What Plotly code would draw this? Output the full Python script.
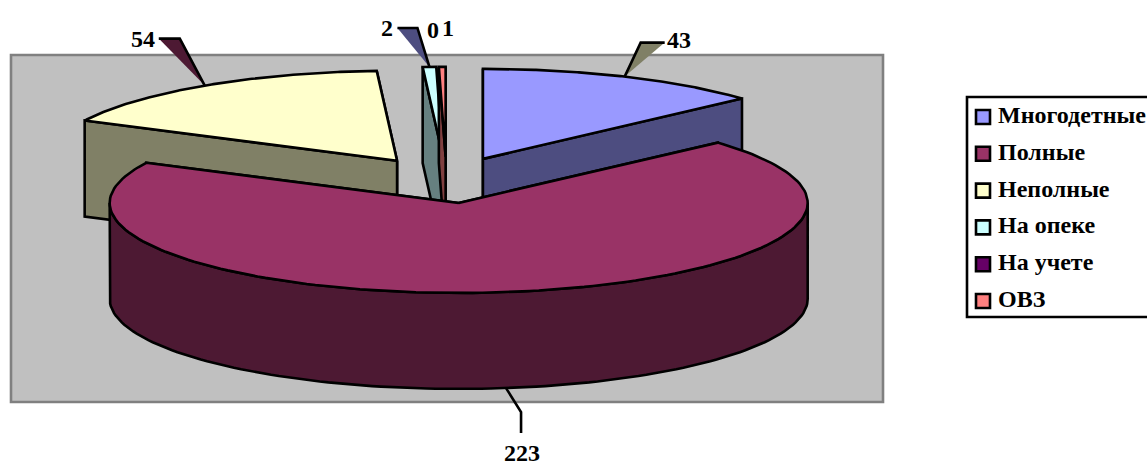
"""3D-look exploded pie drawn with filled scatter polygons on a pixel-sized axis."""
import numpy as np
import plotly.graph_objects as go

# ── Data ──────────────────────────────────────────────────────────────────────
categories = ["Многодетные", "Полные", "Неполные", "На опеке", "На учете", "ОВЗ"]
values = [43, 223, 54, 2, 0, 1]

# ── Colours ───────────────────────────────────────────────────────────────────
top_colors = ["#9999FF", "#993366", "#FFFFCC", "#CCFFFF", "#660066", "#FF8080"]
side_colors = ["#4D4D80", "#4D1933", "#808066", "#668080", "#330033", "#804040"]
# wedge under the leader lines, index = slice
leader_fill = {0: "#808066", 1: None, 2: "#4D1933", 3: "#4D4D80"}

_FONT = dict(family="Liberation Serif", color="black", size=24, weight=700)
_LEGEND_FONT = dict(family="Liberation Serif", color="black", size=24, weight=700)
_LW = 2.6

# ── Pie geometry (pixels) ─────────────────────────────────────────────────────
CX, CY = 446.5, 180
A, B = 349, 90
DEPTH = 96
EXPLODE = 0.257

# leader elbows relative to the rim midpoint
leader_offsets = {
    0: [(16, -34), (40, -34)],
    1: [(15, 24), (15, 45)],
    2: [(-25, -47), (-46, -47)],
    3: [(-12, -39), (-32, -39)],
}
label_pos = {0: (679, 40), 1: (522, 453), 2: (143, 39), 3: (387, 28), 4: (433, 30), 5: (448, 28)}

fig = go.Figure()


def poly(xs, ys, fill, line=True, name=None):
    fig.add_trace(go.Scatter(
        x=list(xs), y=list(ys),
        mode="lines",
        fill="toself",
        fillcolor=fill,
        line=dict(color="black", width=_LW if line else 0, shape="linear"),
        name=name or "",
        hoverinfo="name" if name else "skip",
        showlegend=False,
    ))


def rim(apex, deg):
    t = np.radians(deg)
    return apex[0] + A * np.sin(t), apex[1] - B * np.cos(t)


# slice start / end angles, clockwise from 12 o'clock
total = sum(values)
ends = np.cumsum(values) / total * 360
starts = np.concatenate([[0], ends[:-1]])
mids = (starts + ends) / 2
apexes = [
    (CX + EXPLODE * A * np.sin(np.radians(m)), CY - EXPLODE * B * np.cos(np.radians(m)))
    for m in mids
]


def draw_slice(i):
    if values[i] == 0:
        return
    apex, s, e = apexes[i], starts[i], ends[i]
    side = side_colors[i]

    # cut faces, the one further back first
    faces = sorted([s, e], key=lambda d: rim(apex, d)[1])
    for d in faces:
        rx, ry = rim(apex, d)
        poly([apex[0], rx, rx, apex[0], apex[0]],
             [apex[1], ry, ry + DEPTH, apex[1] + DEPTH, apex[1]], side)

    # outer wall, front half only
    lo, hi = max(s, 90), min(e, 270)
    if lo < hi:
        th = np.linspace(lo, hi, 120)
        wx, wy = rim(apex, th)
        poly(np.concatenate([wx, wx[::-1], wx[:1]]),
             np.concatenate([wy, wy[::-1] + DEPTH, wy[:1]]), side)

    # top
    th = np.linspace(s, e, 160)
    tx, ty = rim(apex, th)
    poly(np.concatenate([[apex[0]], tx, [apex[0]]]),
         np.concatenate([[apex[1]], ty, [apex[1]]]),
         top_colors[i], name=f"{categories[i]}: {values[i]}")


for i in [2, 3, 4, 5, 0, 1]:
    draw_slice(i)

# ── Leader lines and value labels ─────────────────────────────────────────────
for i, offsets in leader_offsets.items():
    sx, sy = rim(apexes[i], mids[i])
    if i == 1:
        sy += DEPTH
    xs = [sx] + [sx + dx for dx, _ in offsets]
    ys = [sy] + [sy + dy for _, dy in offsets]
    if leader_fill[i]:
        poly(xs + xs[:1], ys + ys[:1], leader_fill[i], line=False)
    fig.add_trace(go.Scatter(x=xs, y=ys, mode="lines", line=dict(color="black", width=_LW),
                             hoverinfo="skip", showlegend=False))

for i, (lx, ly) in label_pos.items():
    fig.add_annotation(x=lx, y=ly, text=str(values[i]), showarrow=False,
                       xanchor="center", yanchor="middle", font=_FONT)

# ── Legend (hand-built, the built-in one cannot get this tight) ───────────────
LEG_X, LEG_TEXT_X, LEG_Y0, LEG_STEP = 983, 998, 117, 36.8
leg_y = [LEG_Y0 + k * LEG_STEP for k in range(len(categories))]
fig.add_trace(go.Scatter(
    x=[LEG_X] * len(categories),
    y=leg_y,
    mode="markers",
    marker=dict(symbol="square", size=14, color=top_colors, line=dict(color="black", width=_LW)),
    hoverinfo="skip",
    showlegend=False,
    cliponaxis=False,
))
fig.add_trace(go.Scatter(
    x=[LEG_TEXT_X] * len(categories),
    y=leg_y,
    mode="text",
    text=categories,
    textposition="middle right",
    textfont=_LEGEND_FONT,
    hoverinfo="skip",
    showlegend=False,
    cliponaxis=False,
))

fig.update_layout(
    width=1147,
    height=462,
    autosize=False,
    paper_bgcolor="white",
    plot_bgcolor="white",
    margin=dict(l=0, r=0, t=0, b=0),
    xaxis=dict(range=[0, 1147], visible=False, fixedrange=True),
    yaxis=dict(range=[462, 0], visible=False, fixedrange=True),
    shapes=[
        dict(type="rect", layer="below", x0=11, y0=55, x1=883, y1=402,
             fillcolor="#C0C0C0", line=dict(color="#808080", width=_LW)),
        dict(type="rect", layer="below", x0=967, y0=97, x1=1152, y1=317,
             fillcolor="white", line=dict(color="black", width=_LW)),
    ],
)

# page body has an 8px margin by default, the chart must sit at 0,0
fig.write_html("out.html", config=dict(displayModeBar=False),
               post_script="document.body.style.margin='0';document.body.style.overflow='hidden';")
